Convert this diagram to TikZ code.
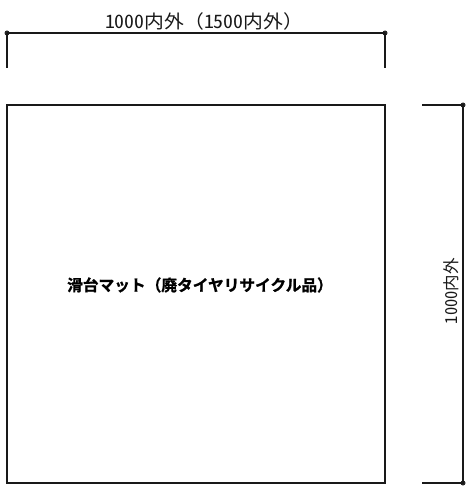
\documentclass[tikz,border=0pt]{standalone}
\usepackage{fontspec}
\setmainfont{Noto Sans CJK JP}[RawFeature=+hwid]
\newfontfamily\jpfull{Noto Sans CJK JP}
\newfontfamily\jpbold{Noto Sans CJK JP Bold}[FakeBold=1.2]
\tikzset{
  line/.style={draw=black!90,line width=1.4pt},
  thinline/.style={draw=black!90,line width=1.1pt},
  dimdot/.style={circle,fill=black!85,inner sep=0pt,minimum size=5pt},
  dimtext/.style={inner sep=0pt,text=black!90,xscale=1.07,font=\fontsize{18.5}{20}\selectfont},
  vdimtext/.style={inner sep=0pt,text=black!90,rotate=90,font=\fontsize{16.5}{20}\selectfont},
  boldtext/.style={inner sep=0pt,text=black,font=\jpbold\fontsize{15.7}{18}\selectfont}
}
\begin{document}
\begin{tikzpicture}[x=1pt,y=-1pt]
\useasboundingbox (0,0) rectangle (473,492);
\node[draw=black!90,line width=1.5pt,outer sep=0pt,minimum width=378pt,minimum height=378pt,inner sep=0pt,anchor=center] (mat) at (196,294) {};
\node[boldtext] (lbl) at (200,285) {滑台マット（廃タイヤリサイクル品）};
\coordinate (tl) at (7,33);
\coordinate (tr) at (385,33);
\coordinate (tle) at (7,68);
\coordinate (tre) at (385,68);
\node[dimdot] (dtl) at (tl) {};
\node[dimdot] (dtr) at (tr) {};
\draw[thinline] (tl) -- (tr);
\draw[line] (tl) -- (tle);
\draw[line] (tr) -- (tre);
\node[dimtext] (top) at (204,21) {1000内外{\jpfull （}1500内外{\jpfull ）}};
\coordinate (rt) at (463,105);
\coordinate (rb) at (463,483);
\coordinate (rte) at (422,105);
\coordinate (rbe) at (422,483);
\node[dimdot] (drt) at (rt) {};
\node[dimdot] (drb) at (rb) {};
\draw[line] (rte) -- (rt) -- (rb) -- (rbe);
\node[vdimtext] (side) at (451,291) {1000内外};
\end{tikzpicture}
\end{document}
